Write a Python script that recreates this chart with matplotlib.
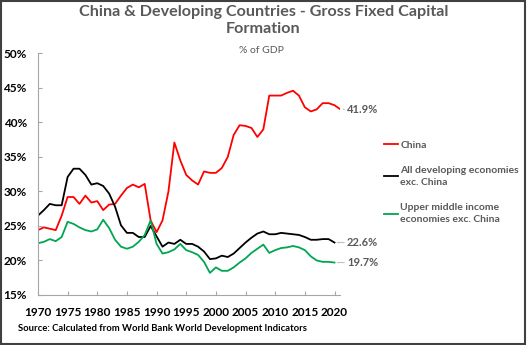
import numpy as np
import matplotlib.pyplot as plt
from matplotlib.patches import Rectangle

plt.rcParams['font.family'] = ['Lato', 'DejaVu Sans']

# data (% of GDP)
years_china = list(range(1970, 2022))
china = [24.4, 24.8, 24.6, 24.4, 26.5, 29.2, 29.2, 28.2, 29.4, 28.4,
         28.6, 27.3, 28.1, 28.2, 29.4, 30.5, 31.0, 30.6, 31.1, 25.8,
         24.1, 25.8, 30.0, 37.1, 34.5, 32.4, 31.6, 31.0, 32.9, 32.7,
         32.7, 33.4, 35.0, 38.2, 39.6, 39.5, 39.2, 37.9, 39.0, 43.9,
         43.9, 43.9, 44.3, 44.6, 43.9, 42.2, 41.6, 41.9, 42.8, 42.8,
         42.5, 41.9]

years = list(range(1970, 2021))
all_dev = [26.5, 27.3, 28.2, 28.0, 28.0, 32.1, 33.3, 33.3, 32.4, 31.0,
           31.2, 30.8, 29.7, 27.8, 25.1, 24.0, 24.0, 23.4, 23.4, 25.0,
           23.5, 22.0, 22.6, 22.4, 23.0, 22.4, 22.4, 22.0, 21.3, 20.2,
           20.3, 20.7, 20.5, 21.0, 21.8, 22.6, 23.3, 23.9, 24.2, 23.8,
           23.8, 24.0, 23.9, 23.8, 23.7, 23.4, 23.0, 23.0, 23.1, 23.1,
           22.6]
upper_mid = [22.5, 22.7, 23.1, 22.8, 23.4, 25.6, 25.3, 24.8, 24.4, 24.2,
             24.5, 25.9, 24.7, 23.0, 22.0, 21.7, 22.0, 22.7, 23.7, 25.8,
             22.4, 21.0, 21.2, 21.6, 22.4, 21.5, 21.2, 20.8, 19.8, 18.2,
             19.0, 18.5, 18.5, 19.0, 19.7, 20.3, 21.1, 21.7, 22.3, 21.1,
             21.5, 21.8, 21.9, 22.1, 21.9, 21.5, 20.6, 20.0, 19.8, 19.8,
             19.7]

names = ['China', 'All developing economies\nexc. China',
         'Upper middle income\neconomies exc. China']
end_labels = ['41.9%', '22.6%', '19.7%']

red = '#FF0000'
green = '#00A651'
grey = '#595959'

fig = plt.figure(figsize=(5.27, 3.45), dpi=100)
ax = fig.add_axes([0.072, 0.145, 0.574, 0.70])

ax.plot(years_china, china, color=red, lw=1.3, label=names[0])
ax.plot(years, all_dev, color='black', lw=1.3, label=names[1])
ax.plot(years, upper_mid, color=green, lw=1.3, label=names[2])

# end labels with short leader lines
ends = [(years_china[-1], china[-1]), (years[-1], all_dev[-1]), (years[-1], upper_mid[-1])]
for (x, y), txt in zip(ends, end_labels):
    ax.annotate(txt, xy=(x, y), xytext=(2022.1, y), textcoords='data',
                va='center', ha='left', fontsize=8, fontweight='bold', color=grey,
                arrowprops=dict(arrowstyle='-', color='#BFBFBF', lw=0.8,
                                shrinkA=0, shrinkB=2),
                annotation_clip=False)

ax.set_xlim(1970, 2021)
ax.set_ylim(15, 50)
ax.set_xticks(range(1970, 2021, 5))
ax.set_yticks(range(15, 51, 5))
ax.set_yticklabels([f'{v}%' for v in range(15, 51, 5)])
ax.tick_params(direction='in', length=3, color='#A6A6A6', labelsize=8.5)
for lab in ax.get_xticklabels() + ax.get_yticklabels():
    lab.set_fontweight('bold')
ax.tick_params(axis='x', pad=9)
ax.tick_params(axis='y', pad=8)
for s in ['top', 'right']:
    ax.spines[s].set_visible(False)
for s in ['left', 'bottom']:
    ax.spines[s].set_color('#A6A6A6')
    ax.spines[s].set_linewidth(0.8)

leg = fig.legend(loc='upper left', bbox_to_anchor=(0.72, 0.605), frameon=False,
                 fontsize=7.5, handlelength=1.4, handletextpad=0.2,
                 labelspacing=1.55, borderaxespad=0)
for t in leg.get_texts():
    t.set_color(grey)
    t.set_fontweight('bold')
    t.set_linespacing(1.45)

fig.text(0.5, 0.94, 'China & Developing Countries - Gross Fixed Capital\nFormation',
         ha='center', va='center', fontsize=11.6, fontweight='bold', color=grey,
         linespacing=1.32)
fig.text(0.497, 0.855, '% of GDP', ha='center', va='center', fontsize=7.5, color=grey)
fig.text(0.034, 0.049, 'Source: Calculated from World Bank World Development Indicators',
         ha='left', va='center', fontsize=6.8, fontweight='bold', color='black')

fig.patches.append(Rectangle((0.002, 0.003), 0.995, 0.994, transform=fig.transFigure,
                             fill=False, edgecolor='#404040', lw=1.5))

fig.savefig('out.png', dpi=100)
